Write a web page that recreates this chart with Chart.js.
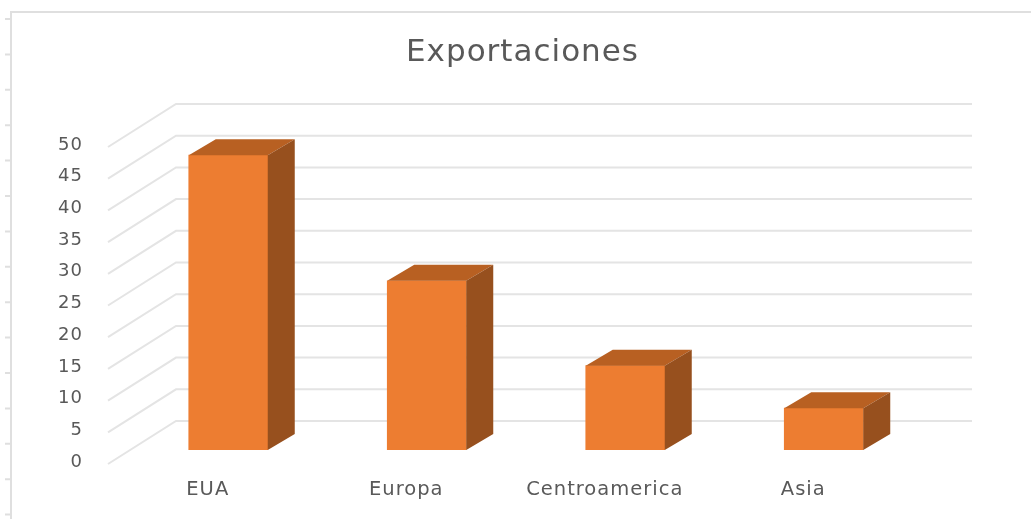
<!DOCTYPE html>
<html lang="es">
<head>
  <meta charset="UTF-8">
  <title>Exportaciones</title>
  <script src="https://cdn.jsdelivr.net/npm/chart.js"></script>
  <style>
    body { margin: 0; background: #fff; }
    #wrap { width: 1031px; height: 519px; }
  </style>
</head>
<body>
  <div id="wrap"><canvas id="chart"></canvas></div>
  <script>
    const regions = ['EUA', 'Europa', 'Centroamerica', 'Asia'];
    const exportsValues = [46.5, 26.7, 13.3, 6.6];
    const yTicks = [0, 5, 10, 15, 20, 25, 30, 35, 40, 45, 50];

    const FRONT = '#ed7d31', TOP = '#b86022', SIDE = '#97501e';
    const GRID = '#e4e4e4', FRAME = '#dfdfdf', TEXT = '#595959';
    const FONT = '"DejaVu Sans", sans-serif';

    // depth of the bars, and of the floor in front of / behind them
    const DEPTH = { x: 27, y: -16 };
    const WALL = { frontX: 108, frontY: 14, backX: 176, backY: -29, rightX: 972 };

    function poly(ctx, color, pts) {
      ctx.fillStyle = color;
      ctx.beginPath();
      pts.forEach((p, i) => i ? ctx.lineTo(p[0], p[1]) : ctx.moveTo(p[0], p[1]));
      ctx.closePath();
      ctx.fill();
    }

    // Frame of the chart object: top and left edge with small marks on the left
    const framePlugin = {
      id: 'frame',
      beforeDraw(chart) {
        const ctx = chart.ctx;
        ctx.letterSpacing = '1px';
        ctx.save();
        ctx.strokeStyle = FRAME;
        ctx.lineWidth = 2;
        ctx.beginPath();
        ctx.moveTo(11, 519);
        ctx.lineTo(11, 12);
        ctx.lineTo(1031, 12);
        for (let y = 19; y < 519; y += 35.4) {
          ctx.moveTo(5, y);
          ctx.lineTo(11, y);
        }
        ctx.stroke();
        ctx.restore();
      }
    };

    // Back wall lines and the diagonals running out to the axis labels
    const wallPlugin = {
      id: 'wall',
      beforeDatasetsDraw(chart) {
        const ctx = chart.ctx;
        const y = chart.scales.y;
        ctx.save();
        ctx.strokeStyle = GRID;
        ctx.lineWidth = 2;
        ctx.beginPath();
        yTicks.forEach(v => {
          const py = y.getPixelForValue(v);
          ctx.moveTo(WALL.frontX, py + WALL.frontY);
          ctx.lineTo(WALL.backX, py + WALL.backY);
          ctx.lineTo(WALL.rightX, py + WALL.backY);
        });
        ctx.stroke();
        ctx.restore();
      }
    };

    // Top and side faces of each bar, taken from the bar elements
    const depthPlugin = {
      id: 'barDepth',
      afterDatasetsDraw(chart) {
        const ctx = chart.ctx;
        ctx.save();
        chart.getDatasetMeta(0).data.forEach(bar => {
          const l = bar.x - bar.width / 2, r = bar.x + bar.width / 2;
          poly(ctx, TOP, [[l, bar.y], [r, bar.y], [r + DEPTH.x, bar.y + DEPTH.y], [l + DEPTH.x, bar.y + DEPTH.y]]);
          poly(ctx, SIDE, [[r, bar.y], [r + DEPTH.x, bar.y + DEPTH.y], [r + DEPTH.x, bar.base + DEPTH.y], [r, bar.base]]);
        });
        ctx.restore();
      }
    };

    new Chart(document.getElementById('chart'), {
      type: 'bar',
      data: {
        labels: regions,
        datasets: [{ data: exportsValues, backgroundColor: FRONT, barThickness: 79, yAxisID: 'y' }]
      },
      plugins: [framePlugin, wallPlugin, depthPlugin],
      options: {
        responsive: true,
        maintainAspectRatio: false,
        animation: false,
        layout: { padding: { left: 14, right: 0, top: 0, bottom: 0 } },
        plugins: {
          legend: { display: false },
          tooltip: { enabled: false },
          title: {
            display: true,
            text: 'Exportaciones',
            color: TEXT,
            font: { family: FONT, size: 31, weight: 'normal' },
            padding: { top: 34, bottom: 61.8 }
          }
        },
        scales: {
          x: {
            afterFit: s => { s.height = 69; },
            grid: { display: false },
            border: { display: false },
            ticks: { color: TEXT, font: { family: FONT, size: 19.5 }, padding: 20, labelOffset: -20.5, maxRotation: 0, autoSkip: false }
          },
          y: {
            min: 0,
            max: 50,
            afterFit: s => { s.width = 115; },
            grid: { display: false },
            border: { display: false },
            afterBuildTicks: s => { s.ticks = yTicks.map(v => ({ value: v })); },
            ticks: { color: TEXT, font: { family: FONT, size: 18 }, padding: 38, labelOffset: 12, autoSkip: false }
          },
          // empty axis that only keeps the right margin free
          spacer: {
            position: 'right',
            afterFit: s => { s.width = 108; },
            grid: { display: false },
            border: { display: false },
            ticks: { display: false }
          }
        }
      }
    });
  </script>
</body>
</html>
